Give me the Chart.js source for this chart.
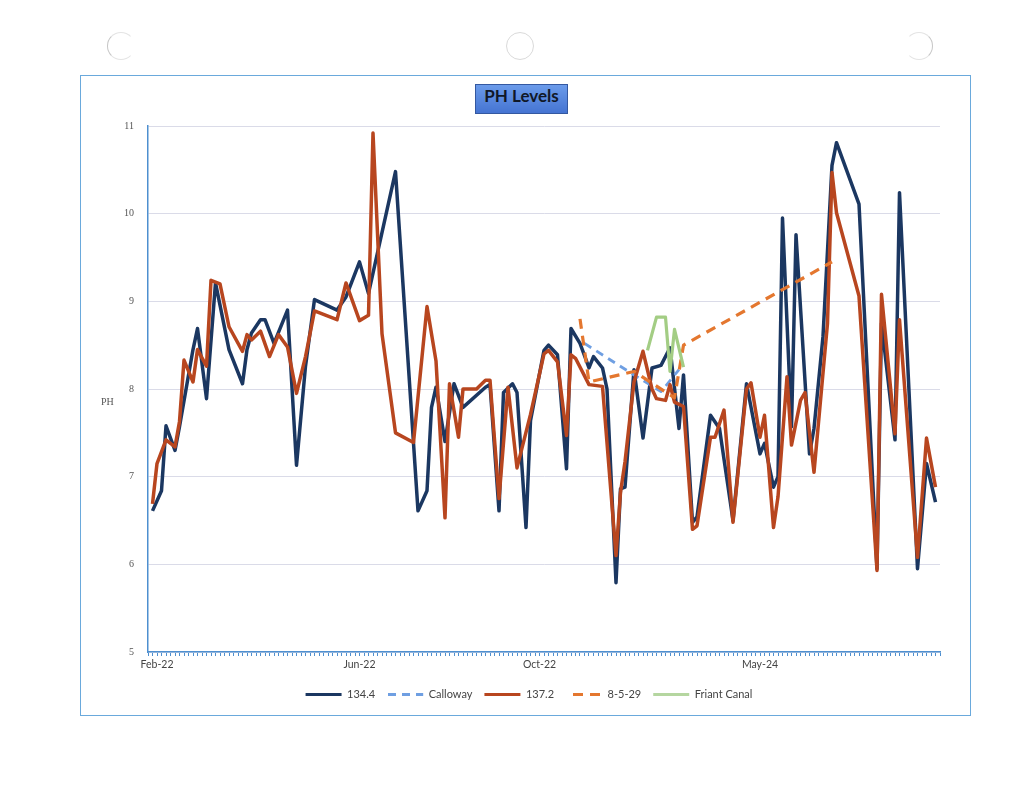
<!DOCTYPE html>
<html>
<head>
<meta charset="utf-8">
<script src="https://cdn.jsdelivr.net/npm/chart.js@4.4.1/dist/chart.umd.min.js"></script>
<style>
  html, body { margin: 0; padding: 0; background: #fff; }
  body { width: 1024px; height: 791px; position: relative; overflow: hidden; }
  .hole { position: absolute; width: 26px; height: 26px; border-radius: 50%; border: 1.5px solid #c6c6c6; }
  #frame { position: absolute; left: 80px; top: 75px; width: 889px; height: 639px; border: 1.5px solid #6aa9dc; }
  #chart { position: absolute; left: 80px; top: 75px; }
  #title { position: absolute; left: 475px; top: 84px; width: 91px; height: 28px; line-height: 28px;
    text-align: center; font: bold 17px Lato, 'Open Sans', sans-serif; color: #101828;
    background: linear-gradient(#6b9bea, #4574d2); border: 1px solid #3458a0; }
  #ylab { position: absolute; left: 101px; top: 396px; font: 10px 'Liberation Serif', serif; color: #555; }
</style>
</head>
<body>
<div class="hole" style="left:107px;top:32px;border-right-color:transparent;border-top-color:#e4e4e4;border-bottom-color:#e4e4e4"></div>
<div class="hole" style="left:506px;top:32px;border-color:#dadada"></div>
<div class="hole" style="left:905px;top:32px;border-left-color:transparent;border-top-color:#e4e4e4;border-bottom-color:#e4e4e4"></div>
<div id="frame"></div>
<canvas id="chart" width="891" height="641"></canvas>
<div id="title">PH Levels</div>
<div id="ylab">PH</div>
<script>
// x positions are category numbers along the axis (one tick per category)
const xTickPos = [1, 46, 86, 135];
const xTickLabels = ['Feb-22', 'Jun-22', 'Oct-22', 'May-24'];

const idx134 = [0, 2, 3, 5, 6, 9, 10, 12, 14, 17, 20, 21, 22, 24, 25, 27, 30, 32, 34, 36, 41, 43, 46, 48, 54,
  59, 61, 62, 63, 65, 67, 69, 74, 75, 77, 78, 80, 81, 83, 84, 87, 88, 90, 92, 93, 95, 97, 98, 100, 101,
  103, 104, 105, 107, 109, 111, 113, 115, 117, 118, 120, 121, 124, 126, 129, 132, 135, 136, 138, 139,
  140, 142, 143, 146, 147, 149, 151, 152, 157, 161, 162, 165, 166, 170, 172, 174];
const ph134 = [6.61, 6.84, 7.58, 7.30, 7.57, 8.45, 8.69, 7.89, 9.21, 8.45, 8.06, 8.45, 8.64, 8.79, 8.79, 8.52, 8.90, 7.13, 8.26, 9.02, 8.90, 9.05, 9.45, 9.09, 10.48,
  6.61, 6.84, 7.79, 8.02, 7.40, 8.06, 7.79, 8.02, 8.05, 6.61, 7.96, 8.06, 7.96, 6.42, 7.64, 8.44, 8.50, 8.39, 7.09, 8.69, 8.52, 8.24, 8.37, 8.24, 8.00,
  5.79, 6.86, 6.88, 8.22, 7.44, 8.24, 8.27, 8.47, 7.55, 8.16, 6.48, 6.54, 7.70, 7.55, 6.50, 8.06, 7.26, 7.38, 6.88, 7.00,
  9.95, 7.57, 9.76, 7.26, 7.55, 8.60, 10.55, 10.81, 10.11, 5.95, 8.75, 7.42, 10.24, 5.95, 7.15, 6.71];

const idx137 = [0, 1, 3, 5, 6, 7, 9, 10, 12, 13, 15, 17, 20, 21, 22, 24, 26, 28, 30, 32, 34, 36, 41, 43, 46, 48, 49, 51, 54,
  58, 61, 63, 65, 66, 68, 69, 72, 74, 75, 77, 79, 81, 84, 87, 88, 90, 92, 93, 94, 97, 100,
  103, 104, 105, 107, 109, 111, 112, 114, 115, 116, 118, 120, 121, 124, 125, 127, 129, 132, 133, 135, 136, 138, 139,
  141, 142, 144, 145, 147, 150, 151, 152, 157, 161, 162, 165, 166, 170, 172, 174];
const ph137 = [6.69, 7.15, 7.42, 7.34, 7.63, 8.33, 8.08, 8.45, 8.26, 9.24, 9.20, 8.71, 8.43, 8.62, 8.56, 8.66, 8.37, 8.62, 8.48, 7.95, 8.37, 8.89, 8.79, 9.21, 8.78, 8.84, 10.92, 8.63, 7.50,
  7.39, 8.94, 8.32, 6.53, 8.06, 7.45, 8.00, 8.00, 8.10, 8.10, 6.75, 8.02, 7.10, 7.71, 8.40, 8.44, 8.31, 7.47, 8.39, 8.35, 8.05, 8.03,
  6.10, 6.82, 7.17, 8.08, 8.43, 8.00, 7.89, 7.87, 8.05, 7.85, 7.80, 6.40, 6.44, 7.45, 7.45, 7.76, 6.48, 8.00, 8.07, 7.45, 7.70, 6.42, 6.77,
  8.14, 7.36, 7.87, 7.96, 7.05, 8.75, 10.47, 10.01, 9.06, 5.93, 9.08, 7.49, 8.79, 6.08, 7.44, 6.88];

const idxCalloway = [96, 107, 113, 117];
const phCalloway = [8.52, 8.16, 7.97, 8.22];

const idx8529 = [95, 97, 107, 116, 118, 151];
const ph8529 = [8.80, 8.08, 8.20, 7.90, 8.50, 9.45];

const idxFriant = [110, 112, 114, 115, 116, 118];
const phFriant = [8.44, 8.82, 8.82, 8.20, 8.68, 8.25];

function pts(xs, ys) {
  return xs.map((x, i) => ({ x: x, y: ys[i] }));
}

// legend swatch: solid bar, or a repeating dash pattern for dashed series
function legendFill(ds) {
  if (!ds.borderDash) return ds.legendColor || ds.borderColor;
  const c = document.createElement('canvas');
  c.width = ds.borderDash[0] + ds.borderDash[1];
  c.height = 4;
  const g = c.getContext('2d');
  g.fillStyle = ds.borderColor;
  g.fillRect(0, 0, ds.borderDash[0], 4);
  return g.createPattern(c, 'repeat');
}

const axisBlue = '#4e8fcf';

new Chart(document.getElementById('chart'), {
  type: 'line',
  data: {
    datasets: [
      { label: '134.4', data: pts(idx134, ph134), borderColor: '#1b3761', borderWidth: 3.5, order: 4 },
      { label: 'Calloway', data: pts(idxCalloway, phCalloway), borderColor: '#6f9fe2', borderWidth: 2.8, borderDash: [8, 6], order: 3 },
      { label: '137.2', data: pts(idx137, ph137), borderColor: '#b8461f', borderWidth: 3.5, order: 2 },
      { label: '8-5-29', data: pts(idx8529, ph8529), borderColor: '#e4772f', borderWidth: 3.2, borderDash: [10, 7], order: 1 },
      { label: 'Friant Canal', data: pts(idxFriant, phFriant), borderColor: '#a3cd84', legendColor: 'rgba(150,196,120,0.7)', borderWidth: 3.2, order: 0 }
    ]
  },
  options: {
    responsive: false,
    animation: false,
    elements: { point: { radius: 0 }, line: { tension: 0, fill: false, borderJoinStyle: 'round' } },
    layout: { padding: { left: 38, right: 31, top: 51, bottom: 6 } },
    scales: {
      x: {
        type: 'linear',
        min: -1,
        max: 175,
        afterFit: (scale) => { scale.height = 25; },
        border: { color: axisBlue, width: 1.5 },
        grid: { drawOnChartArea: false, drawTicks: true, tickLength: 4, color: axisBlue, lineWidth: 1 },
        ticks: {
          stepSize: 1,
          autoSkip: false,
          maxRotation: 0,
          padding: 2,
          color: '#444',
          font: { family: 'Lato, "Open Sans", sans-serif', size: 10.5 },
          callback: (value) => {
            const k = xTickPos.indexOf(value);
            return k >= 0 ? xTickLabels[k] : '';
          }
        }
      },
      y: {
        min: 5,
        max: 11,
        afterFit: (scale) => { scale.width = 30; },
        border: { color: axisBlue, width: 1.5 },
        grid: { color: '#dadbe8', lineWidth: 1, drawTicks: false },
        ticks: {
          stepSize: 1,
          padding: 14,
          color: '#555',
          font: { family: '"Liberation Serif", serif', size: 10 }
        }
      }
    },
    plugins: {
      legend: {
        position: 'bottom',
        labels: {
          boxWidth: 36,
          boxHeight: 3,
          padding: 12,
          color: '#444',
          font: { family: 'Lato, "Open Sans", sans-serif', size: 11 },
          generateLabels: (chart) => chart.data.datasets.map((ds, i) => ({
            text: ds.label,
            fillStyle: legendFill(ds),
            strokeStyle: 'rgba(0,0,0,0)',
            lineWidth: 0,
            fontColor: '#444',
            hidden: false,
            datasetIndex: i
          }))
        }
      },
      title: { display: false },
      tooltip: { enabled: false }
    }
  }
});
</script>
</body>
</html>
